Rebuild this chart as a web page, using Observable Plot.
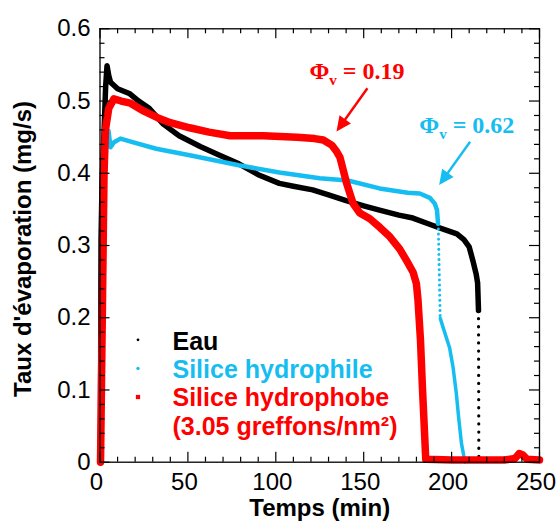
<!DOCTYPE html>
<html><head><meta charset="utf-8">
<script src="https://cdn.jsdelivr.net/npm/d3@7"></script>
<script src="https://cdn.jsdelivr.net/npm/@observablehq/plot@0.6"></script>
<style>body{margin:0;background:#fff;} #chart{width:557px;height:523px;}</style>
</head><body><div id="chart"></div>
<script>
// ---- data ----
// Eau (black)
const eauT = [0.3, 0.4, 0.6, 1.2, 2.5, 3.2, 4.0, 5.0, 6.0, 10, 17, 22, 28, 36, 45, 57, 68, 79, 90, 102, 110, 121, 130, 140, 150, 159, 170, 178, 189, 196, 203, 207, 210, 212, 214, 214.8, 215.3];
const eauV = [0.0, 0.15, 0.31, 0.39, 0.47, 0.52, 0.549, 0.535, 0.526, 0.517, 0.51, 0.50, 0.49, 0.468, 0.452, 0.437, 0.425, 0.413, 0.398, 0.386, 0.382, 0.377, 0.37, 0.362, 0.355, 0.349, 0.342, 0.338, 0.328, 0.322, 0.316, 0.308, 0.298, 0.28, 0.26, 0.248, 0.21];
const eauTailT = [215.3, 215.5];
const eauTailV = [0.21, 0.0];
// Silice hydrophile (blue)
const philT = [0.4, 1.0, 2.0, 3.5, 4.8, 6.0, 8.0, 11.6, 20, 32, 51, 65, 79, 102, 125, 141, 159, 175, 181.9, 187.6, 190.4, 191.7, 192.3];
const philV = [0.0, 0.18, 0.36, 0.44, 0.459, 0.436, 0.443, 0.448, 0.442, 0.434, 0.425, 0.418, 0.411, 0.401, 0.393, 0.39, 0.379, 0.373, 0.372, 0.366, 0.358, 0.349, 0.330];
const philTailT = [192.4, 193.5];
const philTailV = [0.330, 0.199];
const philEndT = [193.6, 195.1, 198.9, 200.8, 202.7, 204.0, 205.6, 206.9, 207.6];
const philEndV = [0.199, 0.187, 0.158, 0.132, 0.095, 0.062, 0.026, 0.009, 0.0];
// Silice hydrophobe (red)
const phobT = [0.3, 0.8, 1.3, 1.8, 2.3, 3.1, 5.0, 7.9, 12, 17.3, 25, 32.7, 40, 51, 62, 74, 93, 112, 122, 127, 131.8, 134.6, 136.5, 140.3, 144, 147.8, 153.5, 159.2, 164.9, 170.5, 174.4, 178.1, 180, 180.9, 182.3, 183.4, 184.2, 185.3, 200, 215, 230, 236, 238.5, 240.5, 243, 250];
const phobV = [0.0, 0.1, 0.2, 0.3, 0.4, 0.46, 0.49, 0.503, 0.5, 0.497, 0.486, 0.477, 0.47, 0.463, 0.457, 0.452, 0.452, 0.45, 0.448, 0.446, 0.439, 0.43, 0.422, 0.386, 0.358, 0.345, 0.337, 0.325, 0.312, 0.295, 0.279, 0.263, 0.247, 0.224, 0.169, 0.104, 0.062, 0.004, 0.003, 0.003, 0.003, 0.005, 0.012, 0.01, 0.004, 0.003];

// ticks and labels
const xMajor = [0, 50, 100, 150, 200, 250];
const xMinor = [10, 20, 30, 40, 60, 70, 80, 90, 110, 120, 130, 140, 160, 170, 180, 190, 210, 220, 230, 240];
const yMajor = [0, 0.1, 0.2, 0.3, 0.4, 0.5, 0.6];
const yMinor = [0.02, 0.04, 0.06, 0.08, 0.12, 0.14, 0.16, 0.18, 0.22, 0.24, 0.26, 0.28, 0.32, 0.34, 0.36, 0.38, 0.42, 0.44, 0.46, 0.48, 0.52, 0.54, 0.56, 0.58];
const yTickLabels = ["0", "0.1", "0.2", "0.3", "0.4", "0.5", "0.6"];
const xTitle = "Temps (min)";
const yTitle = "Taux d'évaporation (mg/s)";
const legendLabels = ["Eau", "Silice hydrophile", "Silice hydrophobe", "(3.05 greffons/nm²)"];
const seriesColors = ["#000000", "#16bdf0", "#ff0000"];
const legendColors = ["#000000", "#16bdf0", "#ff0000", "#ff0000"];
const annotations = [
  {label: "0.19", color: "#ff0000", textT: 119.4, textV: 0.530, fromT: 152.4, fromV: 0.517, toT: 134.8, toV: 0.457},
  {label: "0.62", color: "#16bdf0", textT: 181.9, textV: 0.455, fromT: 210.8, fromV: 0.443, toT: 193.2, toV: 0.383}
];

// ---- build ----
const toRows = (T, V) => T.map((t, i) => ({t, v: V[i]}));
const W = 557, H = 523;
const mT = 28.3, mR = 18, mB = 61.3, mL = 99.5;
const fW = W - mL - mR, fH = H - mT - mB;
const sans = "'Liberation Sans', Arial, Helvetica, sans-serif";

const legendMarks = [];
legendLabels.forEach((lab, i) => {
  legendMarks.push(Plot.text([lab], {text: d => d, frameAnchor: "top-left", dx: 72.5, dy: 312.7 + i * 28.4,
    textAnchor: "start", lineAnchor: "middle", fill: legendColors[i], fontWeight: "bold", fontSize: 25}));
});
const markerR = [1.4, 1.7, 2.4];
const markerSym = ["circle", "circle", "square"];
for (let i = 0; i < 3; i++) {
  legendMarks.push(Plot.dot([0], {frameAnchor: "top-left", dx: 38, dy: 311 + i * 28.6,
    r: markerR[i], symbol: markerSym[i], fill: seriesColors[i], stroke: "none"}));
}

const chart = Plot.plot({
  width: W, height: H,
  marginTop: mT, marginRight: mR, marginBottom: mB, marginLeft: mL,
  x: {domain: [0, 250]},
  y: {domain: [0, 0.6]},
  style: {fontFamily: sans, fontSize: "24px", color: "#000", background: "#fff", overflow: "visible"},
  marks: [
    Plot.line(toRows(eauT, eauV), {x: "t", y: "v", stroke: seriesColors[0], strokeWidth: 5.5}),
    Plot.line(toRows(eauTailT, eauTailV), {x: "t", y: "v", stroke: seriesColors[0], strokeWidth: 3.2, strokeDasharray: "0.1 8", strokeLinecap: "round"}),
    Plot.line(toRows(philT, philV), {x: "t", y: "v", stroke: seriesColors[1], strokeWidth: 4.5}),
    Plot.line(toRows(philTailT, philTailV), {x: "t", y: "v", stroke: seriesColors[1], strokeWidth: 3, strokeDasharray: "0.1 5", strokeLinecap: "round"}),
    Plot.line(toRows(philEndT, philEndV), {x: "t", y: "v", stroke: seriesColors[1], strokeWidth: 3.5}),
    Plot.line(toRows(phobT, phobV), {x: "t", y: "v", stroke: seriesColors[2], strokeWidth: 7.5}),
    Plot.frame({stroke: "#000", strokeWidth: 1.3}),
    Plot.tickX(xMajor, {x: d => d, insetTop: fH - 10, stroke: "#000", strokeWidth: 1.2}),
    Plot.tickX(xMajor, {x: d => d, insetBottom: fH - 10, stroke: "#000", strokeWidth: 1.2}),
    Plot.tickX(xMinor, {x: d => d, insetTop: fH - 5, stroke: "#000", strokeWidth: 1.2}),
    Plot.tickX(xMinor, {x: d => d, insetBottom: fH - 5, stroke: "#000", strokeWidth: 1.2}),
    Plot.tickY(yMajor, {y: d => d, insetRight: fW - 10, stroke: "#000", strokeWidth: 1.2}),
    Plot.tickY(yMajor, {y: d => d, insetLeft: fW - 10, stroke: "#000", strokeWidth: 1.2}),
    Plot.tickY(yMinor, {y: d => d, insetRight: fW - 5, stroke: "#000", strokeWidth: 1.2}),
    Plot.tickY(yMinor, {y: d => d, insetLeft: fW - 5, stroke: "#000", strokeWidth: 1.2}),
    Plot.axisX({ticks: xMajor, tickSize: 0, tickPadding: 11, label: null, fontSize: 24, dx: -3.5}),
    Plot.axisY({ticks: yMajor, tickSize: 0, tickPadding: 9.5, label: null, fontSize: 24,
      tickFormat: d => yTickLabels[yMajor.indexOf(d)]}),
    Plot.text([xTitle], {text: d => d, frameAnchor: "bottom", dy: 46, textAnchor: "middle", lineAnchor: "middle", fontWeight: "bold", fontSize: 24}),
    Plot.text([yTitle], {text: d => d, frameAnchor: "left", dx: -76.5, dy: 3.5, rotate: -90, textAnchor: "middle", lineAnchor: "middle", fontWeight: "bold", fontSize: 24}),
    ...legendMarks
  ]
});
document.getElementById("chart").appendChild(chart);

// annotations with filled arrowheads, positioned through Plot's scales
const sx = chart.scale("x"), sy = chart.scale("y");
const svg = d3.select(chart);
annotations.forEach(a => {
  const x1 = sx.apply(a.fromT), y1 = sy.apply(a.fromV);
  const x2 = sx.apply(a.toT), y2 = sy.apply(a.toV);
  const ang = Math.atan2(y2 - y1, x2 - x1);
  const hl = 15, hw = 7;
  const bx = x2 - hl * Math.cos(ang), by = y2 - hl * Math.sin(ang);
  svg.append("line").attr("x1", x1).attr("y1", y1).attr("x2", bx + 2 * Math.cos(ang)).attr("y2", by + 2 * Math.sin(ang))
    .attr("stroke", a.color).attr("stroke-width", 2.4);
  svg.append("path")
    .attr("d", `M${x2},${y2}L${bx - hw * Math.sin(ang)},${by + hw * Math.cos(ang)}L${bx + hw * Math.sin(ang)},${by - hw * Math.cos(ang)}Z`)
    .attr("fill", a.color);
  const tx = svg.append("text").attr("x", sx.apply(a.textT)).attr("y", sy.apply(a.textV))
    .attr("text-anchor", "start")
    .attr("fill", a.color).attr("font-family", "'Liberation Serif', 'Times New Roman', serif")
    .attr("font-weight", "bold").attr("font-size", 24).style("white-space", "pre");
  tx.append("tspan").text("Φ");
  tx.append("tspan").attr("font-size", 15).attr("dy", 6).text("v");
  tx.append("tspan").attr("dy", -6).text(" = " + a.label);
});
</script>
</body></html>
